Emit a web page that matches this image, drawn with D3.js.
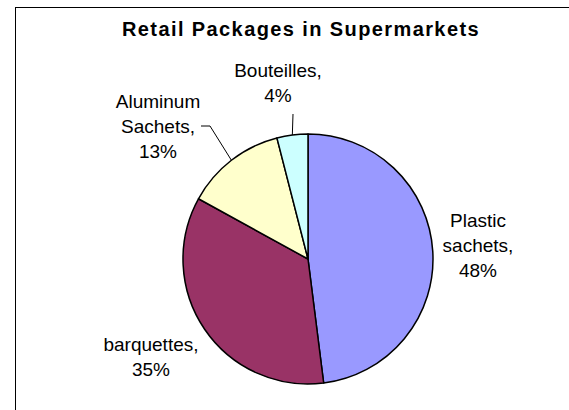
<!DOCTYPE html>
<html>
<head>
<meta charset="utf-8">
<script src="https://cdn.jsdelivr.net/npm/d3@7"></script>
<style>
  html, body { margin: 0; padding: 0; background: #fff; }
  svg { display: block; font-family: "Liberation Sans", Arial, sans-serif; }
</style>
</head>
<body>
<svg id="chart" width="569" height="410"></svg>
<script>
// Share of retail package types found in supermarkets (percent)
const categories = ["Plastic sachets", "barquettes", "Aluminum Sachets", "Bouteilles"];
const shares = [48, 35, 13, 4];
const labelLines = [
  ["Plastic", "sachets,", "48%"],
  ["barquettes,", "35%"],
  ["Aluminum", "Sachets,", "13%"],
  ["Bouteilles,", "4%"]
];
const sliceColors = ["#9999FF", "#993366", "#FFFFCC", "#CCFFFF"];

const W = 569, H = 410;
const cx = 308, cy = 259, radius = 125;
const lineH = 25;

// label block centres (x, first baseline) and optional leader-line elbow
const labelLayout = [
  { x: 478, y: 227 },
  { x: 151, y: 351 },
  { x: 158, y: 108, leader: [[201, 126], [210, 126]] },
  { x: 278, y: 77, leader: [[293, 114]] }
];

const svg = d3.select("#chart");

// chart frame
svg.append("rect")
  .attr("x", 15.5).attr("y", 7.5)
  .attr("width", W).attr("height", H)
  .attr("fill", "#fff").attr("stroke", "#000").attr("stroke-width", 1);

svg.append("text")
  .attr("x", 301).attr("y", 36)
  .attr("text-anchor", "middle")
  .attr("font-size", 20).attr("font-weight", "bold")
  .attr("letter-spacing", 1.4)
  .attr("fill", "#000")
  .text("Retail Packages in Supermarkets");

const pie = d3.pie().sort(null).value(d => d)(shares);
const arc = d3.arc().innerRadius(0).outerRadius(radius);

const g = svg.append("g").attr("transform", `translate(${cx},${cy})`);

g.selectAll("path.slice")
  .data(pie)
  .join("path")
  .attr("class", "slice")
  .attr("d", arc)
  .attr("fill", (d, i) => sliceColors[i])
  .attr("stroke", "#000")
  .attr("stroke-width", 1.5)
  .attr("stroke-linejoin", "round");

// leader lines from the label to the slice's outer edge at its mid angle
pie.forEach((d, i) => {
  const lay = labelLayout[i];
  if (!lay.leader) return;
  const mid = (d.startAngle + d.endAngle) / 2;
  const edge = [cx + radius * Math.sin(mid), cy - radius * Math.cos(mid)];
  svg.append("path")
    .attr("d", d3.line()([...lay.leader, edge]))
    .attr("fill", "none")
    .attr("stroke", "#000")
    .attr("stroke-width", 1);
});

// data labels
labelLayout.forEach((lay, i) => {
  const t = svg.append("text")
    .attr("text-anchor", "middle")
    .attr("font-size", 19)
    .attr("fill", "#000");
  labelLines[i].forEach((ln, k) => {
    t.append("tspan").attr("x", lay.x).attr("y", lay.y + k * lineH).text(ln);
  });
});
</script>
</body>
</html>
